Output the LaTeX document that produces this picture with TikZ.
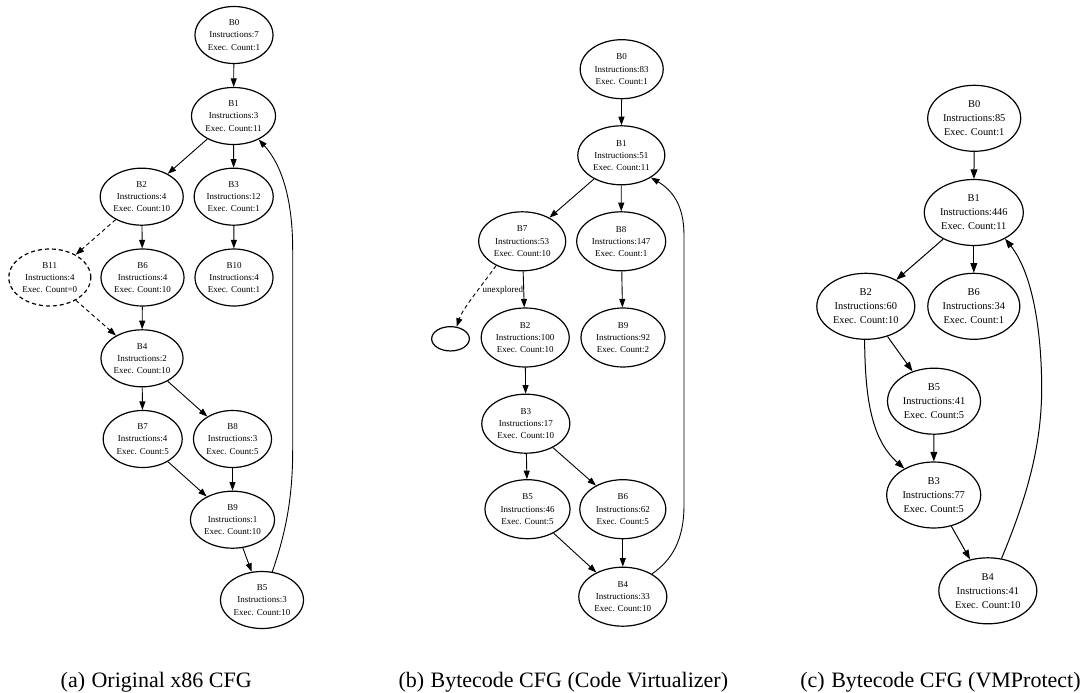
\documentclass[tikz,border=0pt]{standalone}
\usepackage{fontspec}
\setmainfont{Liberation Serif}
\usetikzlibrary{shapes.geometric,arrows.meta}
\tikzset{
  bb/.style={ellipse, draw, line width=1.2pt, inner sep=0pt, align=center,
    font=\fontsize{9}{12.2}\selectfont, minimum height=57pt},
  bbb/.style={bb, minimum height=59pt},
  bbc/.style={bb, font=\fontsize{10.4}{14}\selectfont, minimum height=66pt},
  edge/.style={line width=0.9pt, -{Triangle[length=8.5pt,width=6pt]}},
  edgec/.style={line width=1pt, -{Triangle[length=9.5pt,width=6.8pt]}},
  dashpat/.style={dash pattern=on 4pt off 3pt},
  lbl/.style={font=\fontsize{9}{11}\selectfont, inner sep=0pt},
  captxt/.style={anchor=base, font=\fontsize{22}{26}\selectfont, inner sep=0pt},
}
\begin{document}
\begin{tikzpicture}[x=1pt,y=-1pt]
\useasboundingbox (0,0) rectangle (1082,693);
% ---------- (a) ----------
\node[bb, minimum width=78pt] (a0) at (234,35) {B0\\Instructions:7\\Exec. Count:1};
\node[bb, minimum width=84pt] (a1) at (233.5,116) {B1\\Instructions:3\\Exec. Count:11};
\node[bb, minimum width=83pt] (a2) at (141.7,196.7) {B2\\Instructions:4\\Exec. Count:10};
\node[bb, minimum width=79pt] (a3) at (233.7,196.7) {B3\\Instructions:12\\Exec. Count:1};
\node[bb, minimum width=82pt, dashpat] (a11) at (49.8,277.5) {B11\\Instructions:4\\Exec. Count=0};
\node[bb, minimum width=83pt] (a6) at (142.5,277.5) {B6\\Instructions:4\\Exec. Count:10};
\node[bb, minimum width=78pt] (a10) at (234,277.5) {B10\\Instructions:4\\Exec. Count:1};
\node[bb, minimum width=82pt] (a4) at (142,358.3) {B4\\Instructions:2\\Exec. Count:10};
\node[bb, minimum width=79pt] (a7) at (142.7,439) {B7\\Instructions:4\\Exec. Count:5};
\node[bb, minimum width=78pt] (a8) at (232.5,439) {B8\\Instructions:3\\Exec. Count:5};
\node[bb, minimum width=84pt] (a9) at (232.5,519.7) {B9\\Instructions:1\\Exec. Count:10};
\node[bb, minimum width=83pt] (a5) at (262,600) {B5\\Instructions:3\\Exec. Count:10};
\draw[edge] (a0) -- (a1);
\draw[edge] (a1) -- (a2);
\draw[edge] (a1) -- (a3);
\draw[edge] (a2) -- (a6);
\draw[edge, dashpat] (a2) -- (a11);
\draw[edge, dashpat] (a11) -- (a4);
\draw[edge] (a3) -- (a10);
\draw[edge] (a6) -- (a4);
\draw[edge] (a4) -- (a7);
\draw[edge] (a4) -- (a8);
\draw[edge] (a7) -- (a9);
\draw[edge] (a8) -- (a9);
\draw[edge] (a9) -- (a5);
\draw[edge] (a5.70) .. controls (285,535) and (292.7,500) .. (292.7,450)
  -- (292.7,250) .. controls (292.7,200) and (282,165) .. (a1.-43);
\node[captxt] (capa) at (156.2,687) {(a)\hspace{6.5pt}Original x86 CFG};
% ---------- (b) ----------
\node[bbb, minimum width=83pt] (b0) at (621.7,69.2) {B0\\Instructions:83\\Exec. Count:1};
\node[bbb, minimum width=87pt] (b1) at (621.3,155.3) {B1\\Instructions:51\\Exec. Count:11};
\node[bbb, minimum width=87pt] (b7) at (522.2,241.3) {B7\\Instructions:53\\Exec. Count:10};
\node[bbb, minimum width=89pt] (b8) at (621.2,241.3) {B8\\Instructions:147\\Exec. Count:1};
\node[bbb, minimum width=88pt] (b2) at (525.2,337.5) {B2\\Instructions:100\\Exec. Count:10};
\node[bbb, minimum width=84pt] (b9) at (623,337.5) {B9\\Instructions:92\\Exec. Count:2};
\node[ellipse, draw, line width=1.2pt, inner sep=0pt, minimum width=37.7pt, minimum height=24.3pt] (be) at (450.5,338.8) {};
\node[bbb, minimum width=88pt] (b3) at (525.8,423.7) {B3\\Instructions:17\\Exec. Count:10};
\node[bbb, minimum width=85pt] (b5) at (527.5,509.2) {B5\\Instructions:46\\Exec. Count:5};
\node[bbb, minimum width=86pt] (b6) at (622.8,509.2) {B6\\Instructions:62\\Exec. Count:5};
\node[bbb, minimum width=88pt] (b4) at (622.8,596.7) {B4\\Instructions:33\\Exec. Count:10};
\node[lbl, anchor=west] (bl) at (482.5,290) {unexplored};
\draw[edge] (b0) -- (b1);
\draw[edge] (b1) -- (b7);
\draw[edge] (b1) -- (b8);
\draw[edge] (b7) -- (b2);
\draw[edge] (b8) -- (b9);
\draw[edge, dashpat] (b7.-137) .. controls (480,288) and (463,308) .. (be.63);
\draw[edge] (b2) -- (b3);
\draw[edge] (b3) -- (b5);
\draw[edge] (b3) -- (b6);
\draw[edge] (b5) -- (b4);
\draw[edge] (b6) -- (b4);
\draw[edge] (b4.38) .. controls (672,560) and (684,540) .. (684,505)
  -- (684,235) .. controls (684,205) and (672,190) .. (b1.-37);
\node[captxt] (capb) at (563.3,687) {(b)\hspace{6.5pt}Bytecode CFG (Code Virtualizer)};
% ---------- (c) ----------
\node[bbc, minimum width=93pt] (c0) at (974.2,118.3) {B0\\Instructions:85\\Exec. Count:1};
\node[bbc, minimum width=99pt] (c1) at (973.8,212.5) {B1\\Instructions:446\\Exec. Count:11};
\node[bbc, minimum width=98pt] (c2) at (865.8,306.3) {B2\\Instructions:60\\Exec. Count:10};
\node[bbc, minimum width=92pt] (c6) at (973.8,306.3) {B6\\Instructions:34\\Exec. Count:1};
\node[bbc, minimum width=93pt] (c5) at (934,401.2) {B5\\Instructions:41\\Exec. Count:5};
\node[bbc, minimum width=94pt] (c3) at (933.7,495) {B3\\Instructions:77\\Exec. Count:5};
\node[bbc, minimum width=98pt] (c4) at (987.8,590.8) {B4\\Instructions:41\\Exec. Count:10};
\draw[edgec] (c0) -- (c1);
\draw[edgec] (c1) -- (c2);
\draw[edgec] (c1) -- (c6);
\draw[edgec] (c2) -- (c5);
\draw[edgec] (c2.268) .. controls (865,400) and (872,440) .. (c3.138);
\draw[edgec] (c5) -- (c3);
\draw[edgec] (c3) -- (c4);
\draw[edgec] (c4.67) .. controls (1030,490) and (1042,440) .. (1041.7,385)
  .. controls (1041,320) and (1030,270) .. (c1.-40);
\node[captxt] (capc) at (940.5,687) {(c)\hspace{6.5pt}Bytecode CFG (VMProtect)};
\end{tikzpicture}
\end{document}
